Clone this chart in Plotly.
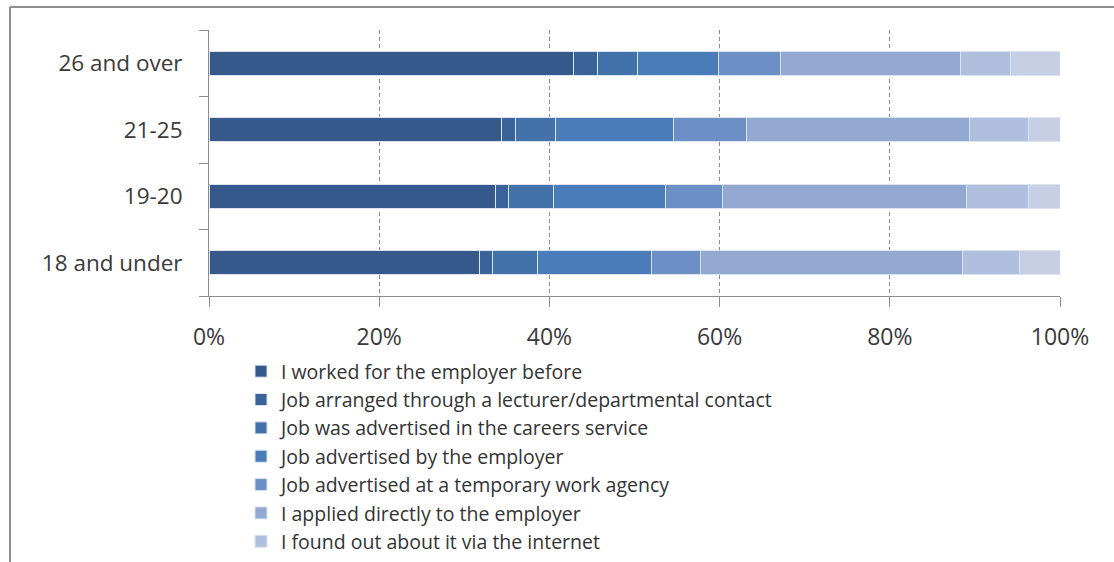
import plotly.graph_objects as go

categories = ["18 and under", "19-20", "21-25", "26 and over"]

series_names = [
    "I worked for the employer before",
    "Job arranged through a lecturer/departmental contact",
    "Job was advertised in the careers service",
    "Job advertised by the employer",
    "Job advertised at a temporary work agency",
    "I applied directly to the employer",
    "I found out about it via the internet",
    "Other",
]

# shares (%) per category, order: 18 and under, 19-20, 21-25, 26 and over
worked_before = [31.8, 33.7, 34.4, 42.8]
lecturer_contact = [1.5, 1.5, 1.6, 2.9]
careers_service = [5.3, 5.3, 4.7, 4.6]
advertised_employer = [13.4, 13.2, 13.9, 9.6]
temp_agency = [5.7, 6.6, 8.6, 7.2]
applied_directly = [30.9, 28.7, 26.2, 21.2]
internet = [6.6, 7.3, 6.9, 5.9]
other = [4.8, 3.7, 3.7, 5.8]

values = [worked_before, lecturer_contact, careers_service, advertised_employer,
          temp_agency, applied_directly, internet, other]

colors = ["#34598A", "#3A639A", "#4371A9", "#4A7CBA", "#6C8FC5",
          "#94A9D1", "#AFBFDD", "#C6CFE4"]

x_ticks = [0, 20, 40, 60, 80, 100]
x_tick_labels = ["0%", "20%", "40%", "60%", "80%", "100%"]

FONT = "'Open Sans', 'Noto Sans', sans-serif"

fig = go.Figure()
for name, vals, col in zip(series_names, values, colors):
    fig.add_trace(go.Bar(
        y=categories, x=vals, name=name, orientation="h",
        marker=dict(color=col, line=dict(color="#DCE3F0", width=1)),
        showlegend=(name != "Other"),
    ))

W, H = 1114, 562
L, R, T, B = 209, 54, 30, 266
pw, ph = W - L - R, H - T - B

def px_x(p):
    return (p - L) / pw

def px_y(p):
    return (H - B - p) / ph

fig.update_layout(
    width=W, height=H, autosize=False,
    margin=dict(l=L, r=R, t=T, b=B, autoexpand=False),
    barmode="stack", bargap=0.64,
    plot_bgcolor="white", paper_bgcolor="white",
    font=dict(family=FONT, size=22, color="#3a3a3a"),
    xaxis=dict(
        range=[0, 100], tickvals=x_ticks, ticktext=x_tick_labels,
        showgrid=True, gridcolor="#8c8c8c", griddash="4px,3px", gridwidth=1,
        showline=True, linecolor="#8c8c8c", linewidth=1,
        ticks="outside", ticklen=10, tickcolor="#8c8c8c",
        ticklabelstandoff=10, zeroline=False,
        tickfont=dict(size=23, color="#3a3a3a"),
    ),
    yaxis=dict(
        categoryorder="array", categoryarray=categories,
        showline=True, linecolor="#8c8c8c", linewidth=1,
        ticks="outside", ticklen=9, tickcolor="#8c8c8c", tickson="boundaries",
        ticklabelstandoff=21, showgrid=False,
        tickfont=dict(size=22.5, color="#3a3a3a"),
    ),
    legend=dict(
        x=px_x(241), y=px_y(352), xanchor="left", yanchor="top",
        traceorder="normal", orientation="v",
        font=dict(size=19.5, color="#333333"),
        itemwidth=30, tracegroupgap=0, bgcolor="rgba(0,0,0,0)",
    ),
    shapes=[
        dict(type="line", xref="paper", yref="paper",
             x0=px_x(10), x1=px_x(10), y0=px_y(7), y1=px_y(H + 5),
             line=dict(color="#8f8f8f", width=2)),
        dict(type="line", xref="paper", yref="paper",
             x0=px_x(10), x1=px_x(W + 5), y0=px_y(7), y1=px_y(7),
             line=dict(color="#8f8f8f", width=2)),
    ],
)

fig.write_html(
    "out.html",
    config={"displayModeBar": False},
    post_script="document.body.style.margin='0';document.body.style.overflow='hidden';",
)
